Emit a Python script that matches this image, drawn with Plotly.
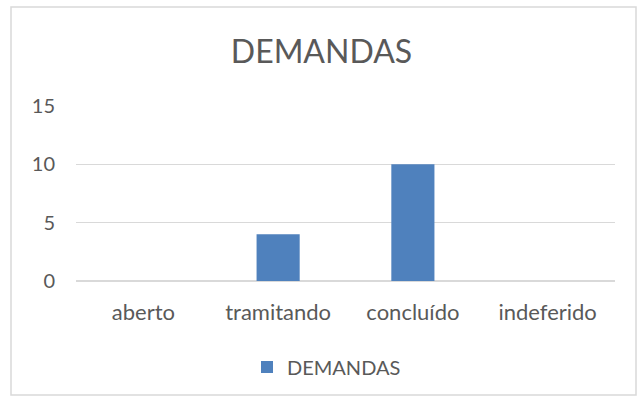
import plotly.graph_objects as go

categories = ["aberto", "tramitando", "concluído", "indeferido"]
values = [0, 4, 10, 0]
y_ticks = [0, 5, 10, 15]

text_color = "#595959"
bar_color = "#4F81BD"

fig = go.Figure()
fig.add_trace(go.Bar(x=categories, y=values, name="DEMANDAS",
                     marker=dict(color=bar_color, line=dict(width=0))))

W, H = 643, 401
# plot area in window pixels: x 76..615, y 106..281
left, right, top, bottom = 76, 615, 106, 281
pw, ph = right - left, bottom - top

fig.update_layout(
    width=W, height=H,
    margin=dict(l=left, r=W - right, t=top, b=H - bottom),
    paper_bgcolor="white", plot_bgcolor="white",
    font=dict(family="Lato, Open Sans, sans-serif", color=text_color, size=20),
    title=dict(text="DEMANDAS", x=0.5, xanchor="center", y=1 - 52 / H, yanchor="middle",
               font=dict(size=32, color=text_color)),
    bargap=0.68,
    showlegend=True,
    legend=dict(orientation="h", x=0.5 - 19 / pw, xanchor="center", y=(bottom - 367) / ph, yanchor="middle",
                font=dict(size=20, color=text_color)),
    xaxis=dict(showgrid=False, showline=False, ticks="", tickfont=dict(size=22), ticklabelstandoff=16),
    yaxis=dict(range=[0, 15], tickvals=y_ticks, showgrid=True, gridcolor="#D9D9D9", gridwidth=1,
               zeroline=True, zerolinecolor="#D9D9D9", showline=False, ticks="",
               tickfont=dict(size=20), ticklabelstandoff=20),
)

# chart border
fig.add_shape(type="rect", xref="paper", yref="paper",
              x0=(11 - left) / pw, x1=(636 - left) / pw,
              y0=(bottom - 395) / ph, y1=(bottom - 7) / ph,
              line=dict(color="#D9D9D9", width=1.5), fillcolor="rgba(0,0,0,0)", layer="below")

# drop the default body margin so the figure fills the window exactly
fig.write_html("out.html", config={"displayModeBar": False},
               post_script="document.body.style.margin='0';")
